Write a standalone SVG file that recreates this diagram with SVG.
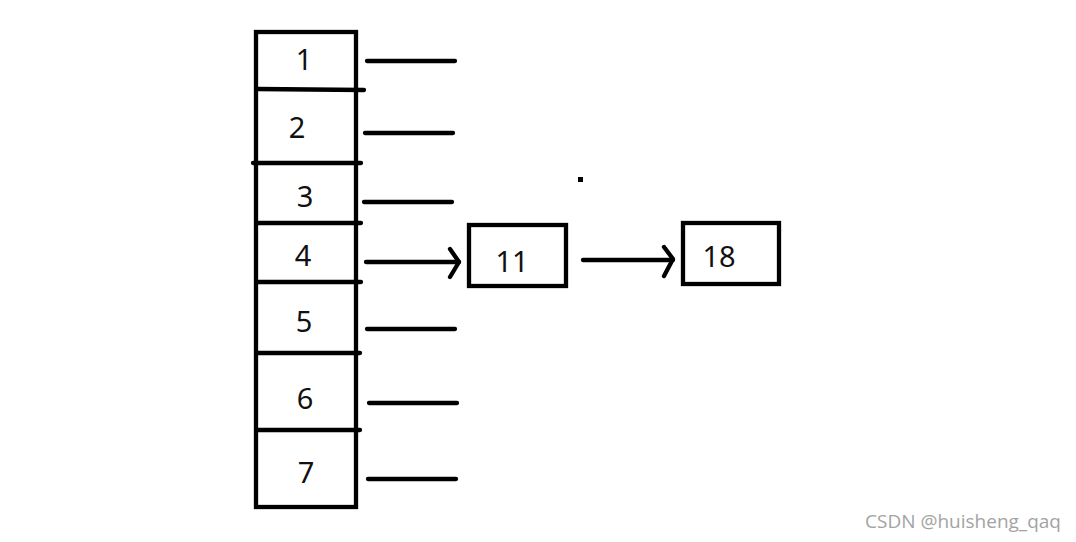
<svg xmlns="http://www.w3.org/2000/svg" width="1076" height="542" viewBox="0 0 1076 542">
<style>
.s{fill:none;stroke:#000;stroke-width:4.3;stroke-linecap:round;stroke-linejoin:round}
.b{fill:none;stroke:#000;stroke-width:4.3}
.t{font-family:"Noto Sans","Open Sans",sans-serif;font-size:29px;fill:#111;text-anchor:middle}
.w{font-family:"Open Sans","Noto Sans",sans-serif;font-size:18.5px;fill:#a3a3a3}
</style>
<rect width="1076" height="542" fill="#fff"/>
<g id="array">
<rect class="b" x="256" y="32" width="100" height="475"/>
<path class="s" d="M257 89 L364 90"/>
<path class="s" d="M253 163 L361 163"/>
<path class="s" d="M257 223 L361 223"/>
<path class="s" d="M257 282 L361 282"/>
<path class="s" d="M257 353 L360 353"/>
<path class="s" d="M257 430 L360 430"/>
<text class="t" x="304" y="70">1</text>
<text class="t" x="297" y="138">2</text>
<text class="t" x="305" y="207">3</text>
<text class="t" x="303" y="266">4</text>
<text class="t" x="304" y="332">5</text>
<text class="t" x="305" y="409">6</text>
<text class="t" x="306" y="483">7</text>
</g>
<g id="node11">
<rect class="b" x="469" y="225" width="97" height="61"/>
<text class="t" x="512" y="272">11</text>
</g>
<g id="node18">
<rect class="b" x="683" y="223" width="96" height="61"/>
<text class="t" x="719" y="267">18</text>
</g>
<g id="connectors">
<path class="s" d="M367 61 L455 61"/>
<path class="s" d="M365 133 L453 133"/>
<path class="s" d="M364 202 L452 202"/>
<path class="s" d="M366 262 L459 262"/>
<path class="s" d="M450 249 L459 262 L450 277"/>
<path class="s" d="M367 329 L455 329"/>
<path class="s" d="M369 403 L457 403"/>
<path class="s" d="M368 479 L456 479"/>
<path class="s" d="M583 260 L673 260"/>
<path class="s" d="M664 247 L673 259 L664 276"/>
</g>
<rect x="578" y="177" width="5" height="5" fill="#000"/>
<text class="w" x="865" y="528" textLength="196" lengthAdjust="spacingAndGlyphs">CSDN @huisheng_qaq</text>
</svg>
